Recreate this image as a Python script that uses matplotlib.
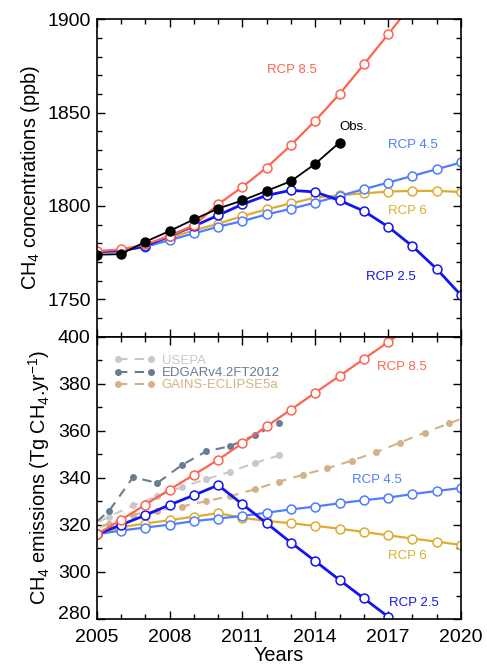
import matplotlib
matplotlib.use('Agg')
import matplotlib.pyplot as plt
import matplotlib.transforms as mtransforms
from matplotlib.ticker import MultipleLocator

plt.rcParams['font.family'] = ['Liberation Sans', 'DejaVu Sans']
plt.rcParams['mathtext.fontset'] = 'custom'
plt.rcParams['mathtext.rm'] = 'Liberation Sans'
plt.rcParams['mathtext.it'] = 'Liberation Sans:italic'

# ---- data ----
years = list(range(2005, 2021))

# concentrations (ppb)
conc_rcp85 = [1775.8, 1776.7, 1779.4, 1783.9, 1789.6, 1800.9, 1810.2, 1820.6,
              1832.6, 1845.7, 1860.0, 1875.8, 1891.9, 1908.5, 1926.0, 1944.0]
conc_rcp45 = [1775.5, 1776.0, 1778.1, 1781.7, 1785.3, 1788.9, 1791.9, 1795.5,
              1798.5, 1801.8, 1805.4, 1809.0, 1812.5, 1816.1, 1819.7, 1823.3]
conc_rcp6 = [1775.5, 1776.0, 1778.5, 1783.0, 1786.9, 1790.5, 1794.6, 1798.2,
             1801.4, 1804.5, 1805.7, 1806.8, 1807.7, 1808.1, 1808.1, 1807.5]
conc_rcp26 = [1775.5, 1776.0, 1778.5, 1783.9, 1789.2, 1795.0, 1800.9, 1805.7,
              1808.4, 1807.5, 1803.0, 1797.3, 1788.9, 1778.5, 1766.3, 1752.2]
obs_years = list(range(2005, 2016))
conc_obs = [1773.9, 1774.2, 1780.8, 1786.6, 1792.8, 1798.6, 1803.0, 1808.1,
            1813.3, 1822.6, 1834.0]

# emissions (Tg CH4/yr)
emis_rcp85 = [316.0, 322.1, 328.6, 335.0, 341.3, 347.7, 354.7, 361.9,
              369.0, 376.2, 383.3, 390.5, 397.7, 405.0, 412.0, 419.0]
emis_rcp45 = [316.0, 317.6, 318.9, 320.1, 321.6, 322.7, 323.8, 325.2,
              326.6, 327.8, 329.2, 330.5, 331.6, 333.1, 334.4, 335.7]
emis_rcp6 = [316.0, 319.0, 320.6, 322.0, 323.5, 325.0, 323.0, 321.7,
             320.7, 319.6, 318.4, 317.0, 315.6, 314.2, 312.9, 311.5]
emis_rcp26 = [316.0, 320.0, 324.1, 328.5, 332.6, 336.9, 328.8, 320.7,
              312.5, 304.6, 296.6, 288.8, 281.0, 273.0, 265.0, 257.0]

inv_years = [2004.5, 2005.5, 2006.5, 2007.5, 2008.5, 2009.5, 2010.5, 2011.5, 2012.5]
usepa = [318.0, 323.5, 328.3, 332.1, 336.1, 339.4, 342.6, 346.3, 349.5]
edgar = [317.0, 325.8, 340.3, 337.8, 345.4, 351.2, 353.5, 358.1, 363.1]
gains_years = [2004.5, 2005.5, 2006.5, 2007.5, 2008.5, 2009.5, 2010.5, 2011.5,
               2012.5, 2013.5, 2014.5, 2015.5, 2016.5, 2017.5, 2018.5, 2019.5, 2020.5]
gains = [316.5, 320.6, 324.4, 326.0, 327.8, 330.1, 332.2, 335.1,
         338.4, 341.3, 344.1, 347.3, 350.9, 355.0, 359.2, 363.1, 367.0]

c85 = '#ff6450'
c45 = '#4f7dff'
c6 = '#e0ac30'
c26 = '#1414f0'
c_usepa = '#c8c8c8'
c_edgar = '#687c92'
c_gains = '#d3b287'

fig = plt.figure(figsize=(4.87, 6.66), dpi=100)
ax1 = fig.add_axes([0.1985, 0.4945, 0.748, 0.4765])
ax2 = fig.add_axes([0.1985, 0.0705, 0.748, 0.424])


def rcp(ax, y, vals, col, lw=1.6):
    ax.plot(y, vals, '-o', color=col, lw=lw, ms=6.4, mfc='white', mec=col, mew=1.1)


rcp(ax1, years, conc_rcp6, c6)
rcp(ax1, years, conc_rcp45, c45)
rcp(ax1, years, conc_rcp26, c26, lw=2.0)
rcp(ax1, years, conc_rcp85, c85)
ax1.plot(obs_years, conc_obs, '-o', color='black', lw=1.3, ms=6.5)

ax1.text(2013.05, 1873, 'RCP 8.5', color=c85, fontsize=9.5, ha='center', va='center')
ax1.text(2015.55, 1842.5, 'Obs.', color='black', fontsize=9.5, ha='center', va='center')
ax1.text(2018.0, 1832.6, 'RCP 4.5', color=c45, fontsize=9.5, ha='center', va='center')
ax1.text(2017.8, 1797.3, 'RCP 6', color=c6, fontsize=9.5, ha='center', va='center')
ax1.text(2017.1, 1761.8, 'RCP 2.5', color=c26, fontsize=9.5, ha='center', va='center')

ax1.set_xlim(2005, 2020)
ax1.set_ylim(1730, 1900)
ax1.set_yticks([1750, 1800, 1850, 1900])
ax1.yaxis.set_minor_locator(MultipleLocator(10))
ax1.set_ylabel('CH$_4$ concentrations (ppb)', fontsize=14.3)

# bottom panel
dash = (0, (4.5, 3.5))
ax2.plot(inv_years, usepa, linestyle=dash, marker='o', color=c_usepa, lw=1.5, ms=4,
         label='USEPA')
ax2.plot(inv_years, edgar, linestyle=dash, marker='o', color=c_edgar, lw=1.5, ms=4,
         label='EDGARv4.2FT2012')
ax2.plot(gains_years, gains, linestyle=dash, marker='o', color=c_gains, lw=1.5, ms=4,
         label='GAINS-ECLIPSE5a')

rcp(ax2, years, emis_rcp6, c6)
rcp(ax2, years, emis_rcp45, c45)
rcp(ax2, years, emis_rcp26, c26, lw=2.0)
rcp(ax2, years, emis_rcp85, c85)

ax2.text(2017.55, 387.2, 'RCP 8.5', color=c85, fontsize=9.5, ha='center', va='center')
ax2.text(2016.55, 339.0, 'RCP 4.5', color=c45, fontsize=9.5, ha='center', va='center')
ax2.text(2017.8, 306.8, 'RCP 6', color=c6, fontsize=9.5, ha='center', va='center')
ax2.text(2018.05, 287.0, 'RCP 2.5', color=c26, fontsize=9.5, ha='center', va='center')

leg = ax2.legend(loc='upper left', frameon=False, fontsize=9.5, numpoints=2,
                 handlelength=3.1, handletextpad=0.5, labelspacing=0.0,
                 borderaxespad=0.0, bbox_to_anchor=(0.034, 0.955))
for t, c in zip(leg.get_texts(), [c_usepa, c_edgar, c_gains]):
    t.set_color(c)

ax2.set_xlim(2005, 2020)
ax2.set_ylim(280, 400)
ax2.set_xticks([2005, 2008, 2011, 2014, 2017, 2020])
ax2.xaxis.set_minor_locator(MultipleLocator(1))
ax2.yaxis.set_major_locator(MultipleLocator(20))
ax2.yaxis.set_minor_locator(MultipleLocator(10))
ax2.set_ylabel('CH$_4$ emissions (Tg CH$_4$.yr$^{-1}$)', fontsize=14.3)
ax2.set_xlabel('Years', fontsize=14.3, labelpad=0)

ax1.set_xticks([2005, 2008, 2011, 2014, 2017, 2020])
ax1.xaxis.set_minor_locator(MultipleLocator(1))
ax1.tick_params(labelbottom=False)

for ax in (ax1, ax2):
    ax.tick_params(which='both', direction='in', top=True, right=True,
                   labelsize=14, width=1.0, pad=4.3)
    ax.tick_params(which='major', length=6)
    ax.tick_params(which='minor', length=3.5)
    for s in ax.spines.values():
        s.set_linewidth(1.2)
ax2.tick_params(axis='x', pad=7.5)

# lift the lowest emission tick label a bit, as in the original
fig.canvas.draw()
lift = mtransforms.ScaledTranslation(0, 5 / 72, fig.dpi_scale_trans)
for lab in ax2.get_yticklabels():
    if lab.get_text() == '280':
        lab.set_transform(lab.get_transform() + lift)

fig.savefig('out.png', dpi=100)
